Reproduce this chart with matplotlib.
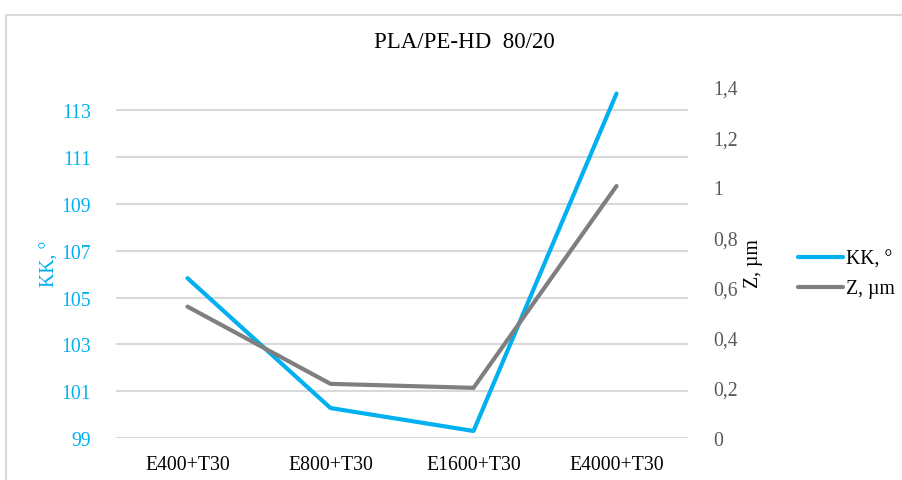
import matplotlib.pyplot as plt
from matplotlib.patches import Rectangle
from matplotlib.ticker import FuncFormatter

# данные
categories = ['E400+T30', 'E800+T30', 'E1600+T30', 'E4000+T30']
kk_values = [105.83, 100.28, 99.3, 113.72]
z_values = [0.524, 0.216, 0.2, 1.005]
left_ticks = [99, 101, 103, 105, 107, 109, 111, 113]
right_ticks = [0, 0.2, 0.4, 0.6, 0.8, 1.0, 1.2, 1.4]

blue = '#00B0F0'
gray = '#7F7F7F'

plt.rcParams['font.family'] = ['Liberation Serif', 'DejaVu Serif']
fs = 14.2

fig = plt.figure(figsize=(9.02, 4.81), dpi=100)
fig.patches.append(Rectangle((6 / 902, -0.1), 1.2, 1 - 16 / 481 + 0.1,
                             transform=fig.transFigure, fill=False,
                             edgecolor='#D9D9D9', linewidth=1.5))

ax = fig.add_axes([116 / 902, 1 - 439 / 481, (688 - 116) / 902, (439 - 88) / 481])
ax2 = ax.twinx()

x = list(range(len(categories)))
l1, = ax.plot(x, kk_values, color=blue, linewidth=3, solid_capstyle='round',
              label='KK, °', zorder=3)
l2, = ax2.plot(x, z_values, color=gray, linewidth=3, solid_capstyle='round',
               label='Z, µm', zorder=3)

ax.set_xlim(-0.5, 3.5)
ax.set_ylim(99, 114)
ax2.set_ylim(0, 1.4)
ax.set_yticks(left_ticks)
ax2.set_yticks(right_ticks)
ax2.yaxis.set_major_formatter(FuncFormatter(lambda v, p: f'{v:g}'.replace('.', ',')))

ax.set_xticks(x)
ax.set_xticklabels(categories, fontsize=fs, color='black')
ax.tick_params(axis='x', length=0, pad=12)
ax.tick_params(axis='y', length=0, pad=18, labelsize=fs, labelcolor=blue)
ax2.tick_params(axis='y', length=0, pad=18, labelsize=fs, labelcolor='#595959')

ax.grid(axis='y', color='#D9D9D9', linewidth=1.5)
ax.set_axisbelow(True)
for a in (ax, ax2):
    for s in a.spines.values():
        s.set_visible(False)

ax.set_ylabel('KK, °', color=blue, fontsize=fs)
ax.yaxis.set_label_coords(-56 / 572, 0.5)
ax2.set_ylabel('Z, µm', color='black', fontsize=fs)
ax2.yaxis.set_label_coords(1 + 56 / 572, 0.5)

fig.text(464 / 902, 1 - 43 / 481, 'PLA/PE-HD  80/20', fontsize=16.5,
         ha='center', va='center')

fig.legend([l1, l2], ['KK, °', 'Z, µm'], loc='center left',
           bbox_to_anchor=(780 / 902, 1 - 275 / 481), frameon=False,
           fontsize=fs, handlelength=2.3, handletextpad=0.15, labelspacing=0.55)

plt.savefig('out.png', dpi=100)
